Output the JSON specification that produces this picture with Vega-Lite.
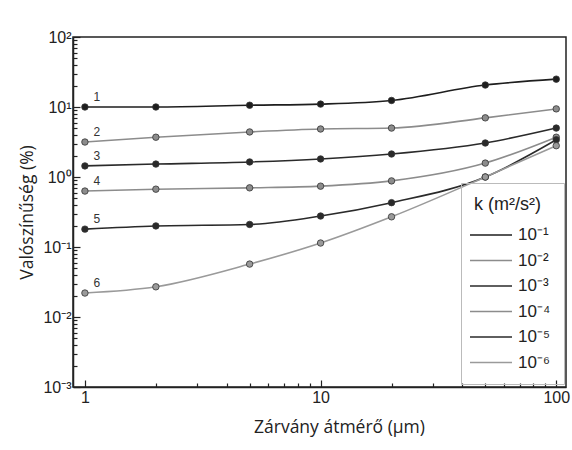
{
  "$schema": "https://vega.github.io/schema/vega-lite/v6.json",
  "autosize": {"type": "none"},
  "padding": {"left": 73, "top": 37, "right": 6, "bottom": 63},
  "width": 493,
  "height": 350,
  "background": "white",
  "config": {
    "view": {"stroke": "#222", "strokeWidth": 1.5},
    "axis": {"labelFont": "Liberation Sans", "titleFont": "Open Sans", "labelColor": "#222", "titleColor": "#222", "domainColor": "#222", "tickColor": "#222", "domainWidth": 1.5, "tickWidth": 1.2}
  },
  "data": {
    "values": [
      {"d": 1, "p": 10, "k": "10⁻¹", "n": "1"},
      {"d": 2, "p": 10, "k": "10⁻¹", "n": "1"},
      {"d": 5, "p": 10.6, "k": "10⁻¹", "n": "1"},
      {"d": 10, "p": 11, "k": "10⁻¹", "n": "1"},
      {"d": 20, "p": 12.4, "k": "10⁻¹", "n": "1"},
      {"d": 50, "p": 20.6, "k": "10⁻¹", "n": "1"},
      {"d": 100, "p": 25, "k": "10⁻¹", "n": "1"},
      {"d": 1, "p": 3.16, "k": "10⁻²", "n": "2"},
      {"d": 2, "p": 3.7, "k": "10⁻²", "n": "2"},
      {"d": 5, "p": 4.4, "k": "10⁻²", "n": "2"},
      {"d": 10, "p": 4.85, "k": "10⁻²", "n": "2"},
      {"d": 20, "p": 5.0, "k": "10⁻²", "n": "2"},
      {"d": 50, "p": 7.0, "k": "10⁻²", "n": "2"},
      {"d": 100, "p": 9.4, "k": "10⁻²", "n": "2"},
      {"d": 1, "p": 1.44, "k": "10⁻³", "n": "3"},
      {"d": 2, "p": 1.53, "k": "10⁻³", "n": "3"},
      {"d": 5, "p": 1.64, "k": "10⁻³", "n": "3"},
      {"d": 10, "p": 1.81, "k": "10⁻³", "n": "3"},
      {"d": 20, "p": 2.13, "k": "10⁻³", "n": "3"},
      {"d": 50, "p": 3.06, "k": "10⁻³", "n": "3"},
      {"d": 100, "p": 5.0, "k": "10⁻³", "n": "3"},
      {"d": 1, "p": 0.63, "k": "10⁻⁴", "n": "4"},
      {"d": 2, "p": 0.67, "k": "10⁻⁴", "n": "4"},
      {"d": 5, "p": 0.70, "k": "10⁻⁴", "n": "4"},
      {"d": 10, "p": 0.74, "k": "10⁻⁴", "n": "4"},
      {"d": 20, "p": 0.88, "k": "10⁻⁴", "n": "4"},
      {"d": 50, "p": 1.58, "k": "10⁻⁴", "n": "4"},
      {"d": 100, "p": 3.7, "k": "10⁻⁴", "n": "4"},
      {"d": 1, "p": 0.18, "k": "10⁻⁵", "n": "5"},
      {"d": 2, "p": 0.2, "k": "10⁻⁵", "n": "5"},
      {"d": 5, "p": 0.21, "k": "10⁻⁵", "n": "5"},
      {"d": 10, "p": 0.277, "k": "10⁻⁵", "n": "5"},
      {"d": 20, "p": 0.43, "k": "10⁻⁵", "n": "5"},
      {"d": 50, "p": 1.0, "k": "10⁻⁵", "n": "5"},
      {"d": 100, "p": 3.4, "k": "10⁻⁵", "n": "5"},
      {"d": 1, "p": 0.022, "k": "10⁻⁶", "n": "6"},
      {"d": 2, "p": 0.027, "k": "10⁻⁶", "n": "6"},
      {"d": 5, "p": 0.057, "k": "10⁻⁶", "n": "6"},
      {"d": 10, "p": 0.114, "k": "10⁻⁶", "n": "6"},
      {"d": 20, "p": 0.27, "k": "10⁻⁶", "n": "6"},
      {"d": 50, "p": 1.0, "k": "10⁻⁶", "n": "6"},
      {"d": 100, "p": 2.8, "k": "10⁻⁶", "n": "6"}
    ]
  },
  "encoding": {
    "x": {
      "field": "d", "type": "quantitative",
      "scale": {"type": "log", "domain": [0.89, 110], "nice": false},
      "axis": {
        "title": "Zárvány átmérő (μm)",
        "titleFontSize": 17.5, "titleFontWeight": "normal",
        "titleX": 266, "titleY": 31,
        "values": [1, 2, 3, 4, 5, 6, 7, 8, 9, 10, 20, 30, 40, 50, 60, 70, 80, 90, 100],
        "labelExpr": "datum.value == 1 || datum.value == 10 || datum.value == 100 ? datum.label : ''",
        "labelFontSize": 16, "labelPadding": 9,
        "tickSize": {"condition": {"test": "datum.value == 1 || datum.value == 10 || datum.value == 100", "value": -7}, "value": -4},
        "grid": false
      }
    },
    "y": {
      "field": "p", "type": "quantitative",
      "scale": {"type": "log", "domain": [0.001, 100], "nice": false},
      "axis": {
        "title": "Valószínűség (%)",
        "titleFontSize": 17.5, "titleFontWeight": "normal", "titlePadding": 6,
        "values": [0.001, 0.002, 0.003, 0.004, 0.005, 0.006, 0.007, 0.008, 0.009, 0.01, 0.02, 0.03, 0.04, 0.05, 0.06, 0.07, 0.08, 0.09, 0.1, 0.2, 0.3, 0.4, 0.5, 0.6, 0.7, 0.8, 0.9, 1, 2, 3, 4, 5, 6, 7, 8, 9, 10, 20, 30, 40, 50, 60, 70, 80, 90, 100],
        "labelExpr": "datum.value == 100 ? '10²' : datum.value == 10 ? '10¹' : datum.value == 1 ? '10⁰' : datum.value == 0.1 ? '10⁻¹' : datum.value == 0.01 ? '10⁻²' : datum.value == 0.001 ? '10⁻³' : ''",
        "labelFontSize": 16, "labelPadding": 9,
        "tickSize": {"condition": {"test": "datum.value == 100 || datum.value == 10 || datum.value == 1 || datum.value == 0.1 || datum.value == 0.01 || datum.value == 0.001", "value": -7}, "value": -4},
        "grid": false
      }
    },
    "color": {
      "field": "k", "type": "nominal",
      "sort": ["10⁻¹", "10⁻²", "10⁻³", "10⁻⁴", "10⁻⁵", "10⁻⁶"],
      "scale": {"domain": ["10⁻¹", "10⁻²", "10⁻³", "10⁻⁴", "10⁻⁵", "10⁻⁶"], "range": ["#1e1e1e", "#8c8c8c", "#2a2a2a", "#8c8c8c", "#2a2a2a", "#9a9a9a"]}
    }
  },
  "layer": [
    {
      "mark": {"type": "line", "interpolate": "monotone", "strokeWidth": 1.6},
      "encoding": {
        "color": {
          "field": "k", "type": "nominal",
          "sort": ["10⁻¹", "10⁻²", "10⁻³", "10⁻⁴", "10⁻⁵", "10⁻⁶"],
          "legend": {
            "title": "k (m²/s²)",
            "orient": "none", "legendX": 388, "legendY": 146,
            "titleFont": "Liberation Sans", "titleFontSize": 18, "titleFontWeight": "normal", "titleColor": "#222",
            "labelFont": "Liberation Sans", "labelFontSize": 17, "labelColor": "#222",
            "labelExpr": "datum.label + '\u00a0\u00a0'",
            "symbolType": "M-2.1,0H2.1", "symbolSize": 400, "symbolStrokeWidth": 1.6, "symbolOffset": 6,
            "strokeColor": "#bbb", "padding": 13, "rowPadding": 6.5, "titlePadding": 10,
            "labelOffset": 16
          }
        }
      }
    },
    {
      "mark": {"type": "point", "filled": true, "size": 42, "opacity": 1, "stroke": "#333", "strokeWidth": 0.8},
      "encoding": {
        "color": {"field": "k", "type": "nominal", "legend": null}
      }
    },
    {
      "transform": [{"filter": "datum.d == 1"}],
      "mark": {"type": "text", "dx": 12, "dy": -10, "fontSize": 12, "font": "Liberation Sans", "fill": "#333"},
      "encoding": {
        "text": {"field": "n"},
        "color": {"value": "#333"}
      }
    }
  ]
}
